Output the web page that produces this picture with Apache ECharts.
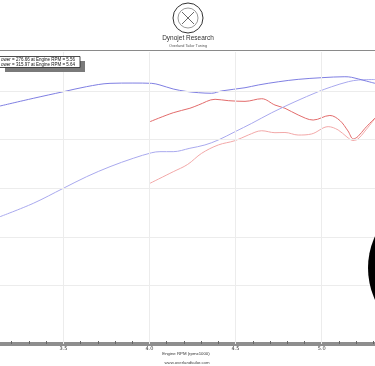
<!DOCTYPE html>
<html>
<head>
<meta charset="utf-8">
<script src="https://cdn.jsdelivr.net/npm/echarts@6/dist/echarts.min.js"></script>
<style>html,body{margin:0;padding:0;background:#fff}#c{width:375px;height:366px}</style>
</head>
<body>
<div id="c"></div>
<script>
// Engine RPM (x1000) / value pairs
const torqueRun2 = [[3.132,284.5],[3.325,292.4],[3.500,299.2],[3.635,304.4],[3.771,307.8],[3.904,308.1],[4.013,307.8],[4.061,306.1],[4.138,302.0],[4.21,299.6],[4.284,298.2],[4.361,297.6],[4.419,300.0],[4.555,303.3],[4.632,306.1],[4.748,309.4],[4.864,311.9],[5.000,313.6],[5.135,314.6],[5.174,314.0],[5.252,310.5],[5.310,307.8]];
const powerRun2 = [[3.132,170.8],[3.325,184.5],[3.500,200.0],[3.635,211.9],[3.771,222.2],[3.906,230.8],[4.013,236.5],[4.061,237.6],[4.138,237.6],[4.235,241.1],[4.322,244.5],[4.400,249.6],[4.497,258.1],[4.594,266.7],[4.710,277.6],[4.845,288.9],[4.980,299.2],[5.058,304.3],[5.155,309.5],[5.213,311.2],[5.310,311.7]];
const torqueRun1 = [[4.003,268.4],[4.138,277.6],[4.235,282.2],[4.284,285.5],[4.381,291.4],[4.458,290.0],[4.555,289.3],[4.652,292.0],[4.729,285.5],[4.787,282.2],[4.864,275.3],[4.951,270.1],[5.048,274.8],[5.106,269.6],[5.153,258.9],[5.184,250.7],[5.211,253.2],[5.252,261.6],[5.310,272.2]];
const powerRun1 = [[4.003,205.1],[4.138,217.0],[4.222,224.5],[4.303,235.9],[4.400,244.5],[4.497,248.9],[4.574,254.7],[4.652,259.1],[4.729,257.1],[4.787,257.3],[4.864,254.7],[4.942,255.8],[5.038,263.3],[5.096,259.9],[5.147,252.7],[5.182,249.1],[5.211,250.6],[5.252,258.8],[5.310,271.7]];
const xLabels = [3.5, 4.0, 4.5, 5.0];
const xTicks = [3.2,3.3,3.4,3.5,3.6,3.7,3.8,3.9,4.0,4.1,4.2,4.3,4.4,4.5,4.6,4.7,4.8,4.9,5.0,5.1,5.2,5.3];
const yGrid = [100, 150, 200, 250, 300];
const legendLines = ['ower = 276.66 at Engine RPM = 5.56', 'ower = 315.97 at Engine RPM = 5.64'];
const titleText = 'Dynojet Research';
const subtitleText = 'Overland Tailor Tuning';
const xName = 'Engine RPM (rpmx1000)';
const footer = 'www.overlandtailor.com';

const chart = echarts.init(document.getElementById('c'), null, {renderer: 'canvas'});
const gridLines = [];
xLabels.forEach(v => gridLines.push({xAxis: v}));
yGrid.forEach(v => gridLines.push({yAxis: v}));

const lineSeries = (name, data, color, z) => ({
  name, type: 'line', data, smooth: 0.35, showSymbol: false, z,
  lineStyle: {color, width: 1}, emphasis: {disabled: true}
});

chart.setOption({
  animation: false,
  backgroundColor: '#ffffff',
  grid: {left: 0, right: 0, top: 52, bottom: 22, containLabel: false},
  xAxis: {
    type: 'value', min: 3.132, max: 5.31,
    axisLine: {show: true, lineStyle: {color: '#8e8e8e', width: 4}},
    axisTick: {show: true, inside: true, length: 3, customValues: xTicks, lineStyle: {color: '#666', width: 1}},
    axisLabel: {show: true, customValues: xLabels, formatter: v => v.toFixed(1), fontSize: 5, color: '#333', margin: 2, fontFamily: 'DejaVu Sans'},
    splitLine: {show: false}
  },
  yAxis: {
    type: 'value', min: 40, max: 340,
    axisLine: {show: false}, axisTick: {show: false}, axisLabel: {show: false}, splitLine: {show: false}
  },
  series: [
    {type: 'line', data: [], z: 1, silent: true,
     markLine: {silent: true, symbol: ['none','none'], label: {show: false},
       lineStyle: {color: '#ececec', type: 'solid', width: 1}, emphasis: {disabled: true}, data: gridLines}},
    lineSeries('Power run 1', powerRun1, '#f2a8a8', 3),
    lineSeries('Torque run 1', torqueRun1, '#e26b6b', 3),
    lineSeries('Power run 2', powerRun2, '#a9a9ee', 3),
    lineSeries('Torque run 2', torqueRun2, '#7f7fe2', 3)
  ],
  graphic: [
    // header
    {type: 'circle', shape: {cx: 188, cy: 18, r: 15}, style: {fill: '#fff', stroke: '#333', lineWidth: 1}},
    {type: 'circle', shape: {cx: 188, cy: 18, r: 10}, style: {fill: 'none', stroke: '#555', lineWidth: 0.6}},
    {type: 'line', shape: {x1: 182, y1: 12, x2: 194, y2: 24}, style: {stroke: '#444', lineWidth: 0.8}},
    {type: 'line', shape: {x1: 194, y1: 12, x2: 182, y2: 24}, style: {stroke: '#444', lineWidth: 0.8}},
    {type: 'text', x: 188, y: 38, style: {text: titleText, fontSize: 6.5, fill: '#333', align: 'center', verticalAlign: 'middle', fontFamily: 'Liberation Sans'}},
    {type: 'text', x: 188, y: 45.5, style: {text: subtitleText, fontSize: 3.8, fill: '#555', align: 'center', verticalAlign: 'middle', fontFamily: 'Liberation Sans'}},
    {type: 'line', shape: {x1: 0, y1: 50.5, x2: 375, y2: 50.5}, style: {stroke: '#8a8a8a', lineWidth: 1}},
    // legend box with shadow
    {type: 'rect', shape: {x: 5, y: 61, width: 80, height: 11}, style: {fill: '#7a7a7a'}, z: 10},
    {type: 'rect', shape: {x: -1, y: 56.5, width: 81, height: 11}, style: {fill: '#fff', stroke: '#222', lineWidth: 0.8}, z: 11},
    {type: 'text', x: 1, y: 59.3, style: {text: legendLines[0], fontSize: 4.5, fill: '#111', verticalAlign: 'middle', fontFamily: 'Liberation Sans'}, z: 12},
    {type: 'text', x: 1, y: 64.6, style: {text: legendLines[1], fontSize: 4.5, fill: '#111', verticalAlign: 'middle', fontFamily: 'Liberation Sans'}, z: 12},
    // footer
    {type: 'text', x: 186, y: 353.5, style: {text: xName, fontSize: 4.3, fill: '#333', align: 'center', verticalAlign: 'middle', fontFamily: 'Liberation Sans'}},
    {type: 'text', x: 187, y: 362.5, style: {text: footer, fontSize: 4.3, fill: '#444', align: 'center', verticalAlign: 'middle', fontFamily: 'Liberation Sans'}},
    // black overlay circle on the right
    {type: 'circle', shape: {cx: 444, cy: 268, r: 76}, style: {fill: '#000'}, z: 20}
  ]
});
</script>
</body>
</html>
